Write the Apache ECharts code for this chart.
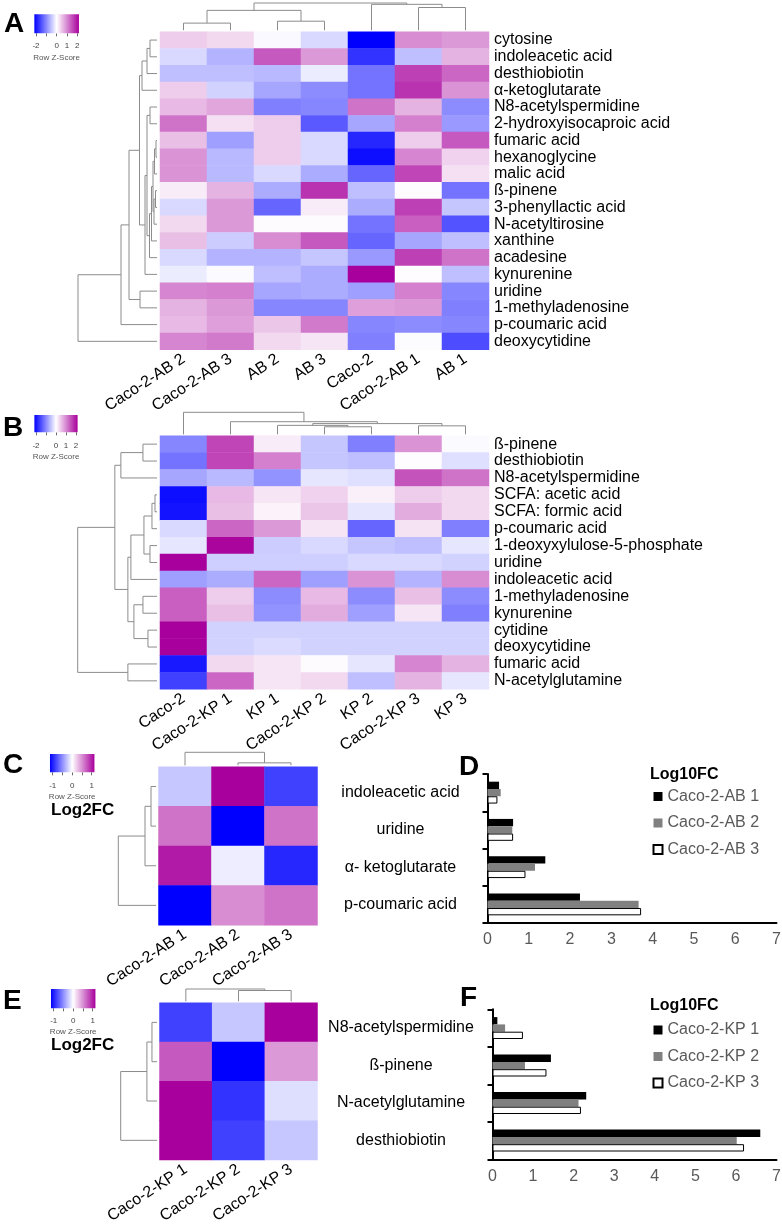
<!DOCTYPE html>
<html>
<head>
<meta charset="utf-8">
<style>
  html, body { margin: 0; background: #fff; }
  #chart { width: 782px; height: 1226px; }
</style>
</head>
<body>
<div id="chart"></div>
<script src="https://cdn.jsdelivr.net/npm/echarts@6.0.0/dist/echarts.min.js"></script>
<script>
var FONT = '"Liberation Sans", Arial, sans-serif';
var LOW = '#0000FF', MID = '#FFFFFF', HIGH = '#A8009C';

// ---- panel A : row z-scores, AB ----
var colsA = ['Caco-2-AB 2', 'Caco-2-AB 3', 'AB 2', 'AB 3', 'Caco-2', 'Caco-2-AB 1', 'AB 1'];
var rowsA = ['cytosine', 'indoleacetic acid', 'desthiobiotin', 'α-ketoglutarate', 'N8-acetylspermidine',
  '2-hydroxyisocaproic acid', 'fumaric acid', 'hexanoglycine', 'malic acid', 'ß-pinene',
  '3-phenyllactic acid', 'N-acetyltirosine', 'xanthine', 'acadesine', 'kynurenine', 'uridine',
  '1-methyladenosine', 'p-coumaric acid', 'deoxycytidine'];
var zA = [
  [0.4, 0.3, -0.05, -0.3, -2.0, 0.9, 0.8],
  [-0.3, -0.6, 1.3, 0.8, -1.6, -0.5, 0.6],
  [-0.5, -0.5, -0.55, -0.15, -1.1, 1.5, 1.2],
  [0.4, -0.35, -0.7, -0.9, -1.1, 1.6, 0.85],
  [0.55, 0.7, -1.0, -0.95, 1.1, 0.6, -0.9],
  [1.1, 0.25, 0.4, -1.3, -0.7, 1.0, -0.8],
  [0.5, -0.75, 0.4, -0.3, -1.7, 0.4, 1.3],
  [0.85, -0.55, 0.4, -0.3, -1.9, 0.95, 0.35],
  [0.85, -0.55, -0.3, -0.65, -1.2, 1.45, 0.25],
  [0.15, 0.6, -0.65, 1.6, -0.5, 0.02, -1.1],
  [-0.3, 0.8, -1.2, 0.15, -0.65, 1.5, -0.45],
  [0.3, 0.8, 0.03, 0.03, -1.1, 1.25, -1.35],
  [0.5, -0.4, 0.9, 1.3, -1.2, -0.7, -0.5],
  [-0.3, -0.6, -0.6, -0.45, -0.8, 1.5, 1.1],
  [-0.15, -0.03, -0.5, -0.65, 2.0, 0.02, -0.5],
  [0.95, 1.0, -0.7, -0.65, -0.75, 1.0, -0.95],
  [0.6, 0.8, -0.95, -0.95, 0.75, 0.8, -1.0],
  [0.55, 0.75, 0.45, 1.05, -0.95, -0.9, -0.95],
  [0.95, 1.05, 0.3, 0.2, -1.0, -0.02, -1.4]
];
// merges like hclust: negative = leaf (1-based), positive = earlier merge; third = height
var colTreeA = [[-1, -2, 7.4], [-3, -4, 9.4], [1, 2, 20.7], [-6, -7, 23.7], [-5, 4, 27], [3, 5, 28.4]];
var rowTreeA = [[-1, -2, 7], [1, -3, 10], [2, -4, 15], [-5, -6, 7], [-7, -8, 1], [5, -9, 2.5],
  [-10, -11, 1.5], [7, -12, 3], [6, 8, 4], [9, -13, 5.5], [10, -14, 7.5], [4, 11, 10],
  [12, -15, 12], [3, 13, 17.5], [-16, -17, 17], [14, 15, 28], [16, -18, 36], [17, -19, 79]];

// ---- panel B : row z-scores, KP ----
var colsB = ['Caco-2', 'Caco-2-KP 1', 'KP 1', 'Caco-2-KP 2', 'KP 2', 'Caco-2-KP 3', 'KP 3'];
var rowsB = ['ß-pinene', 'desthiobiotin', 'N8-acetylspermidine', 'SCFA: acetic acid', 'SCFA: formic acid',
  'p-coumaric acid', '1-deoxyxylulose-5-phosphate', 'uridine', 'indoleacetic acid', '1-methyladenosine',
  'kynurenine', 'cytidine', 'deoxycytidine', 'fumaric acid', 'N-acetylglutamine'];
var zB = [
  [-0.95, 1.45, 0.15, -0.45, -1.0, 0.85, -0.03],
  [-1.1, 1.45, 1.0, -0.45, -0.5, 0.02, -0.25],
  [-0.7, -0.55, -0.85, -0.2, -0.25, 1.35, 1.1],
  [-1.9, 0.55, 0.2, 0.35, 0.12, 0.4, 0.3],
  [-1.85, 0.5, 0.1, 0.45, -0.2, 0.65, 0.3],
  [-0.3, 1.2, 0.8, 0.2, -1.2, 0.22, -1.0],
  [-0.2, 1.95, -0.4, -0.3, -0.45, -0.5, -0.2],
  [2.0, -0.38, -0.38, -0.38, -0.3, -0.3, -0.35],
  [-0.75, -0.65, 1.2, -0.75, 0.85, -0.6, 0.9],
  [1.25, 0.4, -0.9, 0.55, -0.9, 0.5, -0.9],
  [1.25, 0.5, -0.85, 0.65, -0.75, 0.2, -1.0],
  [2.0, -0.35, -0.35, -0.35, -0.35, -0.35, -0.35],
  [2.0, -0.35, -0.28, -0.35, -0.35, -0.35, -0.35],
  [-1.8, 0.3, 0.2, 0.03, -0.2, 0.95, 0.6],
  [-1.5, 1.2, 0.2, 0.3, -0.5, 0.6, -0.2]
];
var colTreeB = [[-4, -5, 8], [-3, 1, 9.5], [-6, -7, 9], [2, 3, 11.4], [-2, 4, 13.4], [-1, 5, 23.4]];
var rowTreeB = [[-1, -2, 14], [1, -3, 36], [-4, -5, 2], [3, -6, 5], [-7, -8, 7], [4, 5, 13],
  [6, -9, 26], [-10, -11, 14], [-12, -13, 9], [8, 9, 23], [7, 10, 29], [2, 11, 42],
  [-14, -15, 29], [12, 13, 79]];

// ---- panel C / D : AB log fold change ----
var colsC = ['Caco-2-AB 1', 'Caco-2-AB 2', 'Caco-2-AB 3'];
var rowsC = ['indoleacetic acid', 'uridine', 'α- ketoglutarate', 'p-coumaric acid'];
var zC = [
  [-0.22, 1.0, -0.75],
  [0.55, -1.0, 0.55],
  [0.9, -0.07, -0.85],
  [-1.0, 0.45, 0.55]
];
var colTreeC = [[-2, -3, 2.7], [-1, 1, 14.3]];
var rowTreeC = [[-1, -2, 5], [1, -3, 11], [2, -4, 37.7]];
var barsD = {
  'Caco-2-AB 1': [0.28, 0.62, 1.4, 2.24],
  'Caco-2-AB 2': [0.32, 0.6, 1.15, 3.66],
  'Caco-2-AB 3': [0.24, 0.62, 0.92, 3.72]
};

// ---- panel E / F : KP log fold change ----
var colsE = ['Caco-2-KP 1', 'Caco-2-KP 2', 'Caco-2-KP 3'];
var rowsE = ['N8-acetylspermidine', 'ß-pinene', 'N-acetylglutamine', 'desthiobiotin'];
var zE = [
  [-0.75, -0.22, 1.0],
  [0.65, -1.0, 0.4],
  [1.0, -0.8, -0.13],
  [1.0, -0.75, -0.22]
];
var colTreeE = [[-2, -3, 12], [-1, 1, 13.7]];
var rowTreeE = [[-1, -2, 5], [1, -3, 10], [2, -4, 36]];
var barsF = {
  'Caco-2-KP 1': [0.12, 1.44, 2.31, 6.6],
  'Caco-2-KP 2': [0.31, 0.8, 2.12, 6.02],
  'Caco-2-KP 3': [0.75, 1.33, 2.18, 6.2]
};
var barColors = ['#000000', '#808080', '#FFFFFF'];

var grids = [], xAxes = [], yAxes = [], series = [], visualMaps = [], legends = [];

function addGrid(box) {
  grids.push({ left: box[0], top: box[1], width: box[2], height: box[3], outerBoundsMode: 'none', containLabel: false });
  return grids.length - 1;
}
function hiddenAxis(g, extra) {
  var a = { gridIndex: g, type: 'value', show: false, splitLine: { show: false } };
  for (var k in extra) a[k] = extra[k];
  return a;
}

function heatPanel(box, cols, rows, z, range, showRows) {
  var g = addGrid(box);
  xAxes.push({
    gridIndex: g, type: 'category', data: cols, position: 'bottom',
    axisLine: { show: false }, axisTick: { show: false }, splitLine: { show: false },
    axisLabel: { interval: 0, rotate: 33, margin: 8, fontSize: 16, color: '#000', fontFamily: FONT }
  });
  yAxes.push({
    gridIndex: g, type: 'category', data: rows, inverse: true, position: 'right',
    axisLine: { show: false }, axisTick: { show: false }, splitLine: { show: false },
    axisLabel: { show: showRows, interval: 0, margin: 5, fontSize: 16, color: '#000', fontFamily: FONT }
  });
  var data = [];
  z.forEach(function (row, r) {
    row.forEach(function (v, c) { data.push([c, r, v]); });
  });
  series.push({
    type: 'heatmap', xAxisIndex: xAxes.length - 1, yAxisIndex: yAxes.length - 1,
    data: data, itemStyle: { borderWidth: 0 }, emphasis: { disabled: true }
  });
  visualMaps.push({
    type: 'continuous', show: false, min: -range, max: range, dimension: 2,
    seriesIndex: series.length - 1, inRange: { color: [LOW, MID, HIGH] }
  });
}

function treeSegments(merges) {
  var pos = [], hgt = [], segs = [];
  function node(id) { return id < 0 ? [-id - 1, 0] : [pos[id - 1], hgt[id - 1]]; }
  merges.forEach(function (m) {
    var a = node(m[0]), b = node(m[1]);
    segs.push([a[0], a[1], b[0], b[1], m[2]]);
    pos.push((a[0] + b[0]) / 2);
    hgt.push(m[2]);
  });
  return segs;
}

function dendro(box, merges, n, sideways) {
  var g = addGrid(box);
  var top = merges[merges.length - 1][2];
  if (sideways) {
    xAxes.push(hiddenAxis(g, { min: 0, max: top, inverse: true }));
    yAxes.push(hiddenAxis(g, { min: -0.5, max: n - 0.5, inverse: true }));
  } else {
    xAxes.push(hiddenAxis(g, { min: -0.5, max: n - 0.5 }));
    yAxes.push(hiddenAxis(g, { min: 0, max: top }));
  }
  series.push({
    type: 'custom', xAxisIndex: xAxes.length - 1, yAxisIndex: yAxes.length - 1,
    data: treeSegments(merges), silent: true, clip: false,
    renderItem: function (params, api) {
      var p1 = api.value(0), h1 = api.value(1), p2 = api.value(2), h2 = api.value(3), h = api.value(4);
      var pts = sideways ? [[h1, p1], [h, p1], [h, p2], [h2, p2]] : [[p1, h1], [p1, h], [p2, h], [p2, h2]];
      return {
        type: 'polyline',
        shape: { points: pts.map(function (p) { return api.coord(p); }) },
        style: { stroke: '#8c8c8c', lineWidth: 1, fill: null }
      };
    }
  });
}

function colorKey(box, range, step, span, margin, gap) {
  var g = addGrid(box);
  xAxes.push({
    gridIndex: g, type: 'value', min: -range, max: range, interval: step, position: 'bottom',
    axisLine: { show: false }, splitLine: { show: false },
    axisTick: { show: true, length: 3, lineStyle: { color: '#444', width: 0.8 } },
    axisLabel: {
      margin: margin, fontSize: 8, color: '#444', fontFamily: FONT,
      formatter: function (v) {
        if (v !== Math.round(v)) return '';
        if (range === 2 && v === -1) return '';
        return String(v);
      }
    },
    name: 'Row Z-Score', nameLocation: 'middle', nameGap: gap,
    nameTextStyle: { fontSize: 8, color: '#555', fontFamily: FONT }
  });
  yAxes.push(hiddenAxis(g, { min: 0, max: 1 }));
  series.push({
    type: 'custom', xAxisIndex: xAxes.length - 1, yAxisIndex: yAxes.length - 1,
    data: [[-span, span]], silent: true, clip: false,
    renderItem: function (params, api) {
      var a = api.coord([api.value(0), 1]), b = api.coord([api.value(1), 0]);
      return {
        type: 'rect',
        shape: { x: a[0], y: a[1], width: b[0] - a[0], height: b[1] - a[1] },
        style: {
          fill: new echarts.graphic.LinearGradient(0, 0, 1, 0, [
            { offset: 0, color: LOW }, { offset: 0.5, color: MID }, { offset: 1, color: HIGH }
          ])
        }
      };
    }
  });
}

function barPanel(box, cats, groups, labelMargin, legendBox) {
  var g = addGrid(box);
  xAxes.push({
    gridIndex: g, type: 'value', min: 0, max: 7, interval: 1,
    axisLine: { show: true, lineStyle: { color: '#000', width: 2 } },
    axisTick: { show: false }, splitLine: { show: false },
    axisLabel: { margin: 9, fontSize: 16, color: '#595959', fontFamily: FONT }
  });
  yAxes.push({
    gridIndex: g, type: 'category', data: cats, inverse: true,
    axisLine: { show: true, lineStyle: { color: '#000', width: 2 } },
    axisTick: { show: true, length: 5, lineStyle: { color: '#000', width: 2 } },
    splitLine: { show: false },
    axisLabel: { interval: 0, align: 'center', margin: labelMargin, fontSize: 16, color: '#000', fontFamily: FONT }
  });
  var names = Object.keys(groups);
  names.forEach(function (name, i) {
    series.push({
      type: 'bar', name: name, xAxisIndex: xAxes.length - 1, yAxisIndex: yAxes.length - 1,
      data: groups[name], barWidth: 7.3, barGap: '0%',
      itemStyle: { color: barColors[i], borderColor: '#000', borderWidth: i === 2 ? 1 : 0 },
      emphasis: { disabled: true }
    });
  });
  legends.push({
    data: names, orient: 'vertical', left: legendBox[0], top: legendBox[1],
    itemWidth: 9, itemHeight: 9, itemGap: 10.5, padding: 0, icon: 'rect', selectedMode: false,
    textStyle: { fontSize: 16, lineHeight: 16, color: '#595959', fontFamily: FONT }
  });
}

// A
heatPanel([160, 31.7, 329, 318], colsA, rowsA, zA, 2, true);
dendro([160, 3, 329, 27.2], colTreeA, colsA.length, false);
dendro([78, 31.7, 79, 318], rowTreeA, rowsA.length, true);
colorKey([36, 14.3, 41.3, 19], 2, 1, 2.16, 8, 20);
// B
heatPanel([160, 435.7, 329, 253.6], colsB, rowsB, zB, 2, true);
dendro([160, 412.3, 329, 22], colTreeB, colsB.length, false);
dendro([77.7, 435.7, 79.3, 253.6], rowTreeB, rowsB.length, true);
colorKey([36, 415, 40, 17.3], 2, 1, 2.16, 9, 20);
// C
heatPanel([158.5, 766.7, 159, 158.5], colsC, rowsC, zC, 1, false);
dendro([158.5, 752.3, 159, 13], colTreeC, colsC.length, false);
dendro([118.3, 766.7, 37.7, 158.5], rowTreeC, rowsC.length, true);
colorKey([52.7, 754, 39, 18.3], 1, 0.5, 1.14, 9, 20);
// D
barPanel([487.5, 774, 289, 149], rowsC, barsD, 87, [652.5, 788.5]);
// E
heatPanel([159.5, 1002.7, 158, 157.3], colsE, rowsE, zE, 1, false);
dendro([159.5, 989, 158, 12.3], colTreeE, colsE.length, false);
dendro([120.7, 1002.7, 36.3, 157.3], rowTreeE, rowsE.length, true);
colorKey([53.7, 989, 39, 19.3], 1, 0.5, 1.14, 8, 19);
// F
barPanel([492.5, 1009.3, 284, 150], rowsE, barsF, 91.5, [652.5, 1022]);

function label(text, left, top, size) {
  return {
    text: text, left: left, top: top, padding: 0,
    textStyle: { fontSize: size, fontWeight: 'bold', color: '#000', lineHeight: size, fontFamily: FONT }
  };
}

var chart = echarts.init(document.getElementById('chart'), null, { renderer: 'canvas' });
chart.setOption({
  animation: false,
  backgroundColor: '#fff',
  textStyle: { fontFamily: FONT },
  title: [
    label('A', 4, 10.5, 28), label('B', 3, 414.5, 28), label('C', 3, 751.5, 28),
    label('D', 459, 753.5, 28), label('E', 3, 987.5, 28), label('F', 460, 984.5, 28),
    label('Log2FC', 51, 802, 17), label('Log2FC', 51, 1037, 17),
    label('Log10FC', 650, 767, 16), label('Log10FC', 650, 998, 16)
  ],
  grid: grids,
  xAxis: xAxes,
  yAxis: yAxes,
  visualMap: visualMaps,
  legend: legends,
  tooltip: { show: false },
  series: series
});
</script>
</body>
</html>
